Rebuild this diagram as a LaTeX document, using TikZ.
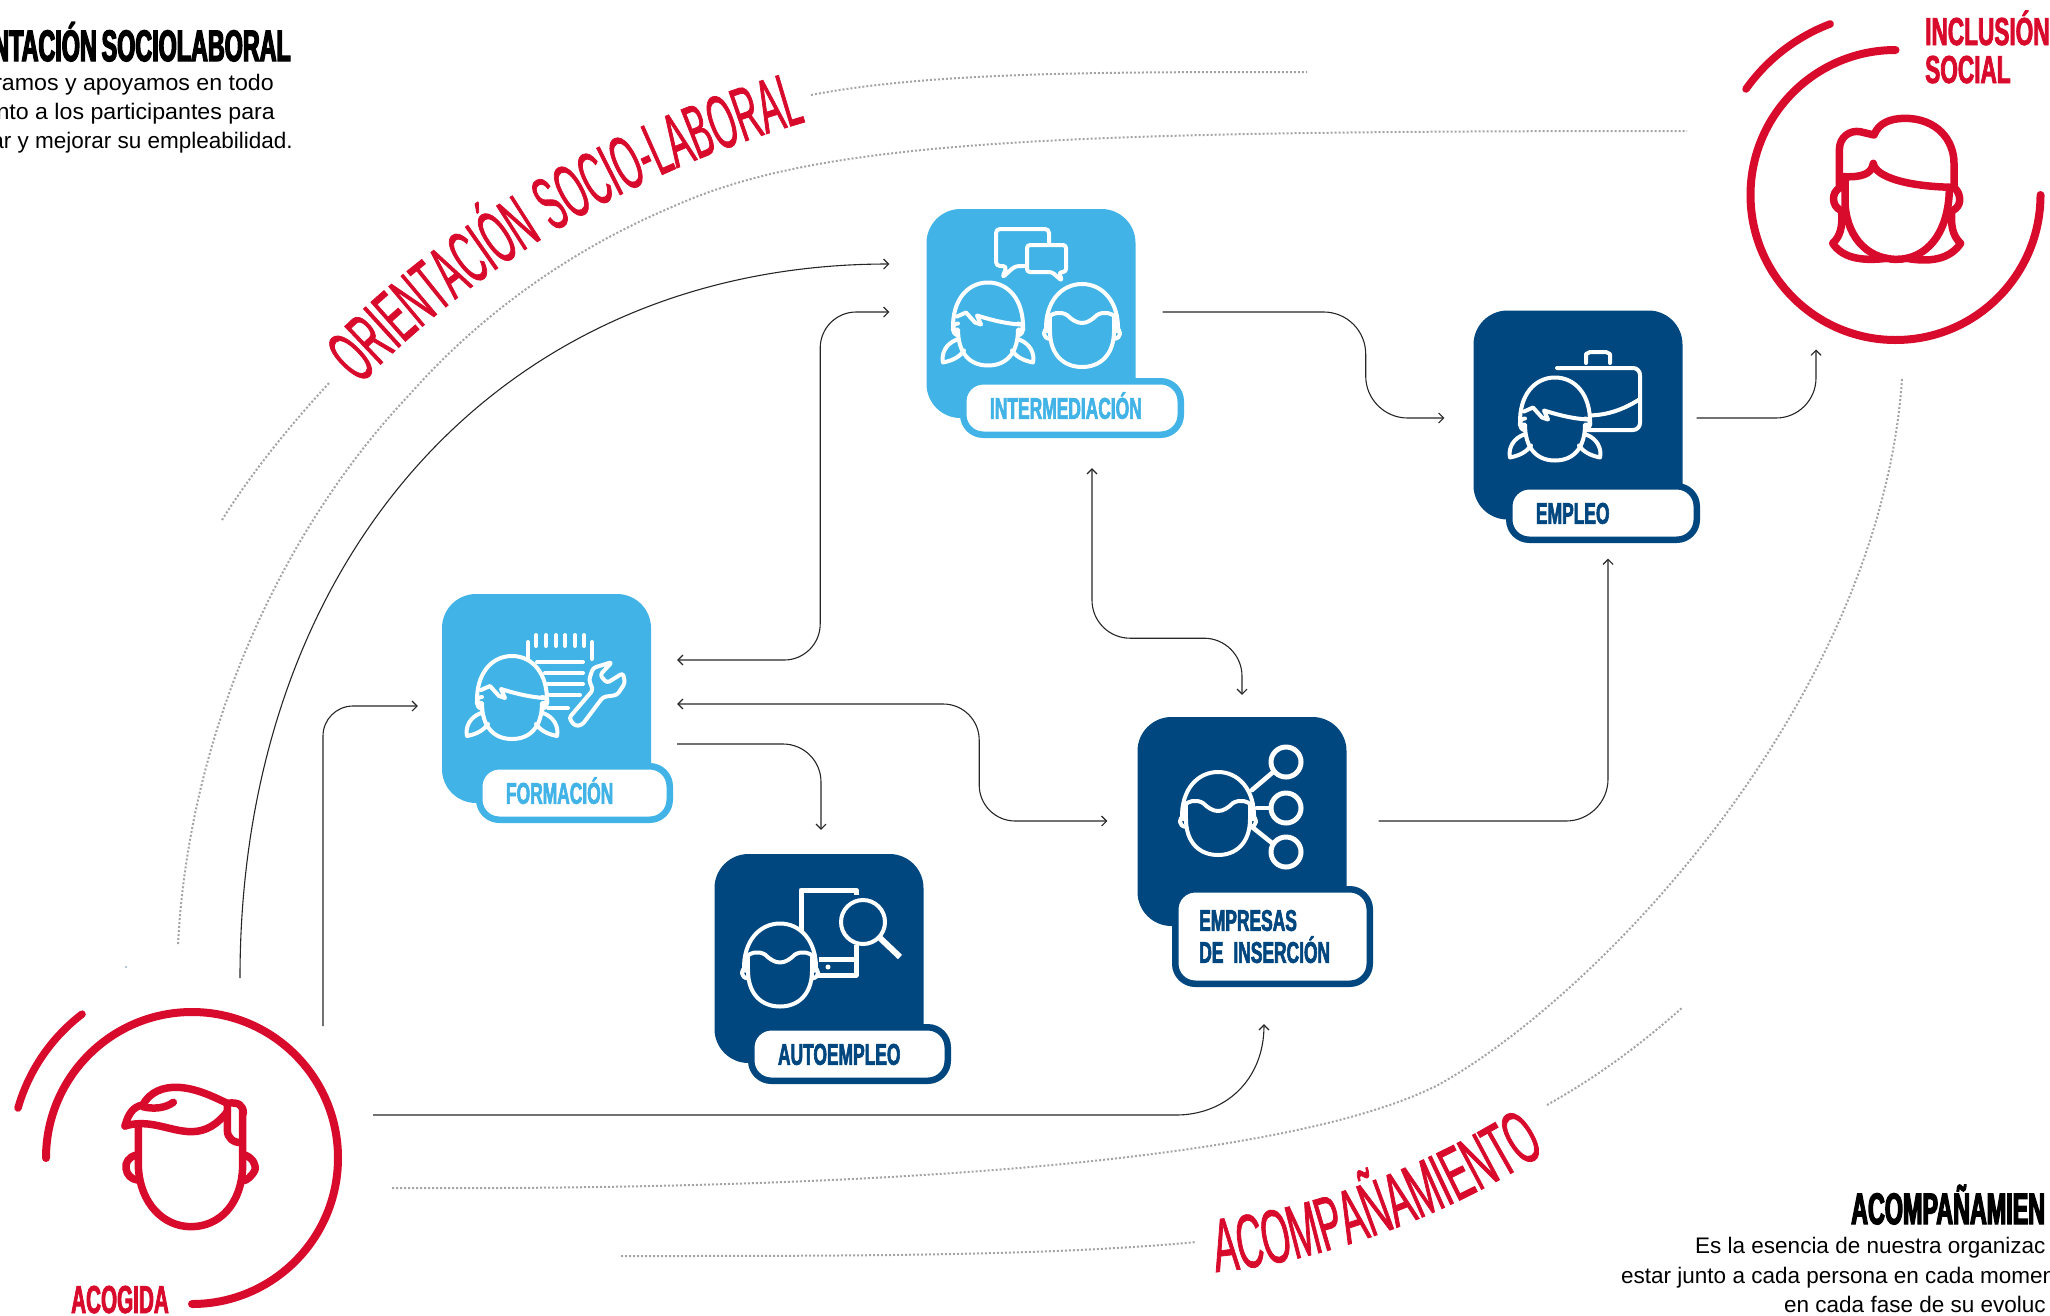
\documentclass[tikz,border=0pt]{standalone}
\usepackage{fontspec}
\setmainfont{Liberation Sans}
\newfontfamily\widefont[FakeStretch=1.03]{Liberation Sans}
\newfontfamily\condfont[FakeStretch=0.58,FakeBold=2,WordSpace=0.5]{Liberation Sans}
\newfontfamily\acogfont[FakeStretch=0.53,FakeBold=2]{Liberation Sans}
\newfontfamily\headfont[FakeStretch=0.53,FakeBold=3,WordSpace=0.75]{Liberation Sans}
\newfontfamily\curvefont[FakeStretch=0.445,FakeBold=1,WordSpace=1.3]{Liberation Sans}
\newfontfamily\acompfont[FakeStretch=0.485,FakeBold=1]{Liberation Sans}
\usepackage{tikz}
\usetikzlibrary{arrows.meta,decorations.text}
\definecolor{lgred}{HTML}{D80B2C}
\definecolor{skyblue}{HTML}{41B3E6}
\definecolor{navyblue}{HTML}{00467F}
\definecolor{dotgray}{HTML}{A4A4A4}
\tikzstyle{cardbody} = [rectangle, minimum width=209pt, minimum height=209pt, rounded corners=34pt, inner sep=0pt]
\tikzstyle{pill} = [rectangle, draw, fill=white, line width=6.5pt, rounded corners=20pt, inner xsep=26.75pt, inner ysep=0pt, minimum height=53.5pt, align=left, font=\condfont\bfseries\fontsize{30}{32}\selectfont]
\tikzstyle{oneline} = [text height=21.5pt, text depth=0pt]
\tikzstyle{arrow} = [line width=1.1pt, draw=black!85, -{Straight Barb[length=5pt,width=10pt]}]
\tikzstyle{darrow} = [line width=1.1pt, draw=black!85, {Straight Barb[length=5pt,width=10pt]}-{Straight Barb[length=5pt,width=10pt]}]
\tikzstyle{dots} = [draw=dotgray, line width=2pt, dash pattern=on 2pt off 2pt]
\tikzstyle{ring} = [draw=lgred, line width=7.5pt, line cap=round, line join=round]
\tikzstyle{icon} = [draw=white, line width=4pt, line cap=round, line join=round]
\tikzstyle{redhead} = [font=\condfont\bfseries\fontsize{39}{38}\selectfont, text=lgred, inner sep=0pt, align=left]
\tikzstyle{blackhead} = [font=\headfont\bfseries\fontsize{44}{44}\selectfont, inner sep=0pt]
\tikzstyle{bodytext} = [font=\fontsize{22.5}{29}\selectfont, inner sep=0pt]
\newcommand{\girlface}[3]{
  \begin{scope}[shift={(#1,#2)}]
    \draw[icon, fill=#3] (-35,6) .. controls (-36,-24) and (-20,-41) .. (0,-41) .. controls (20,-41) and (36,-24) .. (35,6) -- (30,6) .. controls (30,30) and (18,42) .. (0,42) .. controls (-18,42) and (-30,30) .. (-30,6) -- cycle;
    \draw[icon] (-31,-7) -- (-22,-11) -- (-13,-1) -- (-7,1) -- (-11,-8) .. controls (5,-3) and (18,0) .. (32,1);
    \draw[icon] (-30,0) .. controls (-37,0) and (-37,10) .. (-30,12);
    \draw[icon] (30,0) .. controls (37,0) and (37,10) .. (30,12);
    \draw[icon] (-31,16) .. controls (-42,20) and (-47,30) .. (-45,39) .. controls (-35,37) and (-28,33) .. (-24,27);
    \draw[icon] (31,16) .. controls (42,20) and (47,30) .. (45,39) .. controls (35,37) and (28,33) .. (24,27);
  \end{scope}
}
\newcommand{\boyface}[3]{
  \begin{scope}[shift={(#1,#2)}]
    \draw[icon, fill=#3] (-36,6) .. controls (-37,-24) and (-20,-41) .. (0,-41) .. controls (20,-41) and (37,-24) .. (36,6) -- (32,6) .. controls (32,30) and (18,42) .. (0,42) .. controls (-18,42) and (-32,30) .. (-32,6) -- cycle;
    \draw[icon] (-33,-8) .. controls (-30,-12) and (-22,-14) .. (-15,-10) .. controls (-10,-5) and (-5,-2) .. (0,-2) .. controls (5,-2) and (10,-5) .. (15,-10) .. controls (22,-14) and (30,-12) .. (33,-8);
    \draw[icon] (-32,-8) -- (-32,6);
    \draw[icon] (32,-8) -- (32,6);
    \draw[icon] (-33,3) .. controls (-40,4) and (-40,13) .. (-32,14);
    \draw[icon] (33,3) .. controls (40,4) and (40,13) .. (32,14);
  \end{scope}
}
\begin{document}
\begin{tikzpicture}[x=1pt, y=-1pt]
  \useasboundingbox (0,0) rectangle (2050,1315);
  \clip (0,0) rectangle (2050,1315);

  % dotted background lines
  \path[dots] (222,520) .. controls (250,475) and (290,425) .. (330,382);
  \path[dots] (811,95) .. controls (930,72) and (1100,72) .. (1307,72);
  \path[dots] (178,944) .. controls (190,720) and (290,520) .. (411,393) .. controls (480,315) and (570,250) .. (672,207) .. controls (820,140) and (1050,131) .. (1687,131);
  \path[dots] (392,1188) .. controls (800,1190) and (1270,1170) .. (1438,1085) .. controls (1600,995) and (1880,700) .. (1902,379);
  \path[dots] (621,1256) .. controls (850,1256) and (1050,1256) .. (1196,1242);
  \path[dots] (1547,1105) .. controls (1600,1075) and (1640,1045) .. (1683,1007);
  \fill[navyblue!60] (126,967) circle (0.8);

  % cards
  \node (form) [cardbody, fill=skyblue] at (546.5,698.5) {};
  \node (inter) [cardbody, fill=skyblue] at (1031,313.5) {};
  \node (empleo) [cardbody, fill=navyblue] at (1578,415) {};
  \node (auto) [cardbody, fill=navyblue] at (819,958.5) {};
  \node (empresas) [cardbody, fill=navyblue] at (1242,821.5) {};

  % icons
  \foreach \xa in {536,546,556,565,575,584} \draw[icon] (\xa,635) -- (\xa,646);
  \draw[icon] (528,642) -- (528,660);
  \draw[icon] (592,642) -- (592,659);
  \draw[icon] (537,662) -- (583,662);
  \draw[icon] (545,673) -- (583,673);
  \draw[icon] (548,684) -- (583,684);
  \draw[icon] (547,695) -- (580,695);
  \draw[icon] (548,708) -- (568,708);
  \draw[icon, rounded corners=3pt, fill=skyblue] (569,718) -- (593,690) -- (589,680) -- (593,668) -- (612,662) -- (600,675) -- (607,683) -- (623,673) -- (625,683) -- (617,695) -- (603,697) -- (582,725) -- (575,726) -- cycle;
  \girlface{512}{697}{skyblue}

  \draw[icon, rounded corners=4pt, fill=skyblue] (996,229) -- (1049,229) -- (1049,266) -- (1015,266) -- (1002,278) -- (1007,266) -- (996,266) -- cycle;
  \draw[icon, rounded corners=3pt, fill=skyblue] (1027,245) -- (1066,245) -- (1066,272) -- (1059,272) -- (1062,281) -- (1052,272) -- (1027,272) -- cycle;
  \girlface{988}{323.5}{skyblue}
  \boyface{1082}{325}{skyblue}

  \draw[icon] (1586,363) -- (1586,354) -- (1590,352) -- (1606,352) -- (1610,354) -- (1610,363);
  \draw[icon, rounded corners=7pt] (1557,368) -- (1640,368) -- (1640,430) -- (1590,430) -- (1557,430);
  \draw[icon] (1580,415) .. controls (1600,417) and (1620,412) .. (1640,399);
  \girlface{1555}{418.5}{navyblue}

  \draw[icon, line width=5pt, line cap=butt] (801,974) -- (801,890) -- (856,890) -- (856,895);
  \draw[icon, line width=5pt, line cap=butt] (856,945) -- (856,975) -- (816,975);
  \draw[icon, line width=5pt, line cap=butt] (819,959) -- (856,959);
  \fill[white] (828,967) circle (2.5);
  \draw[icon, fill=navyblue] (863,922) circle (22);
  \draw[icon, line width=6pt, line cap=butt] (880,938) -- (900,957);
  \boyface{780}{964.5}{navyblue}

  \draw[icon, line width=4.6pt] (1252,790) -- (1272,773);
  \draw[icon, line width=4.6pt] (1257,808) -- (1271,808);
  \draw[icon, line width=4.6pt] (1252,827) -- (1272,843);
  \draw[icon, line width=5pt] (1286,762) circle (15);
  \draw[icon, line width=5pt] (1286,808) circle (15);
  \draw[icon, line width=5pt] (1286,852) circle (15);
  \boyface{1218}{813}{navyblue}

  % labels on the cards
  \node (formlabel) [pill, oneline, draw=skyblue, text=skyblue, text width=137pt] at ([shift={(28,94.5)}]form.center) {FORMACIÓN};
  \node (interlabel) [pill, oneline, draw=skyblue, text=skyblue, text width=164pt] at ([shift={(41,94.5)}]inter.center) {INTERMEDIACIÓN};
  \node (empleolabel) [pill, oneline, draw=navyblue, text=navyblue, text width=134pt] at ([shift={(25,98)}]empleo.center) {EMPLEO};
  \node (autolabel) [pill, oneline, draw=navyblue, text=navyblue, text width=143pt] at ([shift={(30.5,95.5)}]auto.center) {AUTOEMPLEO};
  \node (empresaslabel) [pill, draw=navyblue, text=navyblue, inner xsep=24pt, text width=146.5pt, minimum height=94.5pt] at ([shift={(30.5,115)}]empresas.center) {EMPRESAS\\DE INSERCIÓN};

  % end stations
  \node (acogida) [circle, minimum size=292pt, inner sep=0pt] at (192,1158) {};
  \node (inclusion) [circle, minimum size=291pt, inner sep=0pt] at (1895.5,195) {};
  \draw[ring, line width=8pt] (46,1158) arc[start angle=180, end angle=450, radius=146];
  \draw[ring] (18,1108) arc[start angle=196, end angle=232.6, radius=181];
  \draw[ring, line width=8pt] (1895.5,50) arc[start angle=270, end angle=0, radius=145];
  \draw[ring] (1746,89) arc[start angle=215.4, end angle=249.2, radius=183];

  \begin{scope}[shift={(0,950)}, scale=1/3]
    \draw[ring] (415,530) -- (415,650) .. controls (420,760) and (490,830) .. (573,830) .. controls (660,830) and (725,760) .. (728,650) -- (728,480);
    \draw[ring] (375,528) .. controls (385,490) and (400,470) .. (428,465) .. controls (450,425) and (490,410) .. (535,412) .. controls (590,415) and (640,440) .. (682,460) .. controls (715,455) and (730,465) .. (730,490);
    \draw[ring] (375,528) .. controls (450,505) and (510,545) .. (575,545) .. controls (620,545) and (655,520) .. (682,485);
    \draw[ring] (682,460) -- (682,540) .. controls (682,565) and (700,578) .. (725,578);
    \draw[ring] (428,470) .. controls (460,478) and (495,475) .. (520,457);
    \draw[ring] (410,615) .. controls (385,620) and (375,640) .. (378,655) .. controls (380,675) and (395,688) .. (412,690);
    \draw[ring] (735,615) .. controls (760,625) and (768,645) .. (765,660) .. controls (755,680) and (740,690) .. (732,692);
  \end{scope}

  \begin{scope}[shift={(1700,0)}, scale=1/3]
    \draw[ring] (418,560) -- (418,450) .. controls (418,410) and (450,390) .. (480,395) -- (522,405) .. controls (535,370) and (570,355) .. (615,355) .. controls (710,355) and (762,420) .. (762,490) -- (762,565);
    \draw[ring] (430,530) .. controls (480,532) and (515,525) .. (520,490) .. controls (525,530) and (620,560) .. (762,562);
    \draw[ring] (435,535) -- (435,600) .. controls (435,700) and (495,778) .. (590,778) .. controls (680,778) and (745,700) .. (748,570);
    \draw[ring] (418,565) .. controls (395,575) and (392,620) .. (425,632);
    \draw[ring] (765,565) .. controls (785,585) and (785,620) .. (757,632);
    \draw[ring] (425,640) .. controls (428,680) and (420,710) .. (398,730) .. controls (425,770) and (475,785) .. (560,775);
    \draw[ring] (755,640) .. controls (752,680) and (760,710) .. (782,730) .. controls (755,770) and (705,790) .. (620,775);
  \end{scope}

  % connectors
  \draw [arrow] ([shift={(48,-180)}]acogida.center) .. controls +(0,-418) and +(-389,0) .. ([shift={(-37,-49.5)}]inter.west);
  \draw [arrow, rounded corners=30pt] ([shift={(131,-132)}]acogida.center) |- ([shift={(-24,7.5)}]form.west);
  \draw [arrow] ([shift={(181,-43)}]acogida.center) -- ++(803,0) .. controls +(49,0) and +(0,56) .. ([shift={(22,98)}]empresas.south);
  \draw [darrow, rounded corners=36pt] ([shift={(26,-38.5)}]form.east) -- ++(143,0) -- ++(0,-348) -- ([shift={(-37,-1.5)}]inter.west);
  \draw [darrow, rounded corners=36pt] ([shift={(26,5.5)}]form.east) -- ++(302,0) -- ++(0,117) -- ([shift={(-30,-0.5)}]empresas.west);
  \draw [arrow, rounded corners=38pt] ([shift={(26,45.5)}]form.east) -| ([shift={(2,-24)}]auto.north);
  \draw [darrow, rounded corners=38pt] ([shift={(61,50)}]inter.south) -- ++(0,170) -- ++(150,0) -- ([shift={(0,-22)}]empresas.north);
  \draw [arrow, rounded corners=42pt] ([shift={(27,-1.5)}]inter.east) -- ++(203,0) -- ++(0,106) -- ([shift={(-29,3)}]empleo.west);
  \draw [arrow, rounded corners=42pt] ([shift={(32,-0.5)}]empresas.east) -| ([shift={(30,39)}]empleo.south);
  \draw [arrow, rounded corners=40pt] ([shift={(14,3)}]empleo.east) -| ([shift={(-79.5,154.5)}]inclusion.center);

  % texts
  \node (acogidatitle) [redhead, font=\acogfont\bfseries\fontsize{39}{38}\selectfont, anchor=base west] at (71,1313) {ACOGIDA};
  \node (inclusiontitle) [redhead, anchor=base west] at (1925,83) {INCLUSIÓN\\SOCIAL};
  \node (orientitle) [blackhead, anchor=base east] at (291,61) {NTACIÓN SOCIOLABORAL};
  \node (orienta) [bodytext, anchor=base east] at (274,90) {\widefont ramos y apoyamos en todo};
  \node (orientb) [bodytext, anchor=base east] at (275,119) {\widefont nto a los participantes para};
  \node (orientc) [bodytext, anchor=base east] at (293,148) {ar y mejorar su empleabilidad.};
  \node (acomptitle) [blackhead, anchor=base west] at (1851,1224) {ACOMPAÑAMIEN};
  \node (acompa) [bodytext, anchor=base west] at (1695,1253) {Es la esencia de nuestra organizac};
  \node (acompb) [bodytext, anchor=base west] at (1621,1283) {estar junto a cada persona en cada momen};
  \node (acompc) [bodytext, anchor=base west] at (1784,1312) {en cada fase de su evoluc};

  % curved titles
  \newcommand{\curvetxt}{\curvefont\fontsize{76}{76}\selectfont\color{lgred}}
  \newcommand{\acomptxt}{\acompfont\fontsize{76}{76}\selectfont\color{lgred}}
  \path[decorate, decoration={text along path, text={|\curvetxt|ORIENTACIÓN SOCIO-LABORAL}}] (360,385) .. controls (479,263) and (633,171) .. (812,120);
  \path[decorate, decoration={text along path, text={|\acomptxt|ACOMPAÑAMIENTO}}] (1216,1272) .. controls (1320,1262) and (1440,1220) .. (1550,1150);
\end{tikzpicture}
\end{document}
